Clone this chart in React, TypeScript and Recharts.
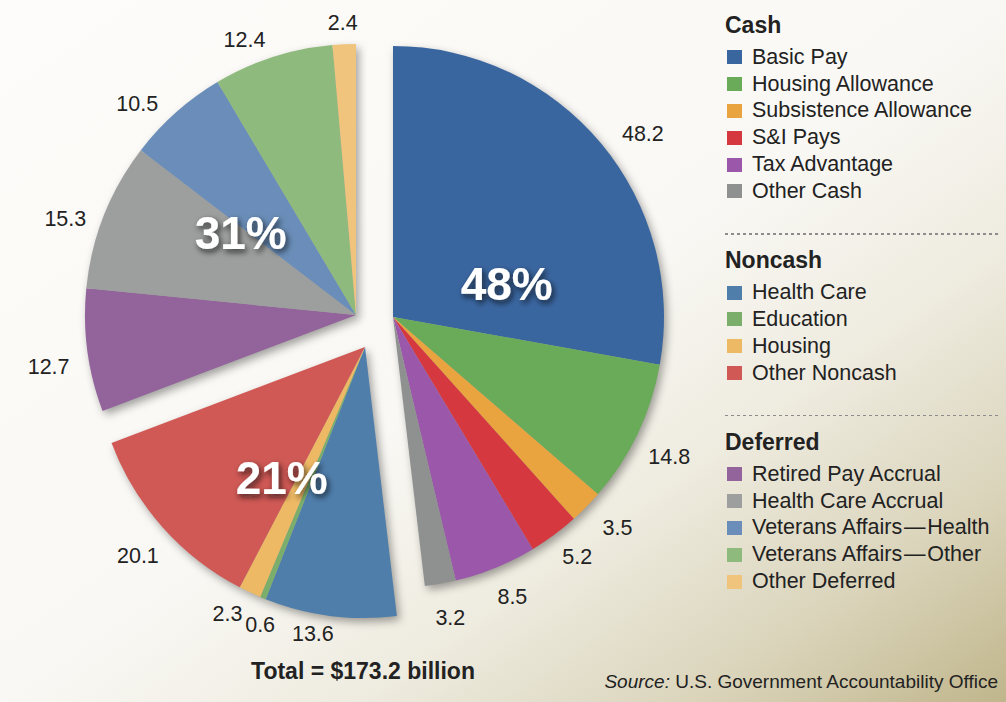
import React from 'react';
import { PieChart, Pie, Cell } from 'recharts';

// ---------- data ----------
const cashNames = ['Basic Pay', 'Housing Allowance', 'Subsistence Allowance', 'S&I Pays', 'Tax Advantage', 'Other Cash'];
const cashValues = [48.2, 14.8, 3.5, 5.2, 8.5, 3.2];
const cashColors = ['#3a66a0', '#6aab59', '#e9a43f', '#d5383e', '#9b58aa', '#8f9090'];

const noncashNames = ['Health Care', 'Education', 'Housing', 'Other Noncash'];
const noncashValues = [13.6, 0.6, 2.3, 20.1];
const noncashColors = ['#4f7eab', '#7aae6a', '#eeb965', '#d05955'];

const deferredNames = ['Retired Pay Accrual', 'Health Care Accrual', 'Veterans Affairs\u200A\u2014\u200AHealth', 'Veterans Affairs\u200A\u2014\u200AOther', 'Other Deferred'];
const deferredValues = [12.7, 15.3, 10.5, 12.4, 2.4];
const deferredColors = ['#93639b', '#9d9e9e', '#6a8eb9', '#8ebb7d', '#f0c47d'];

const groupTitles = ['Cash', 'Noncash', 'Deferred'];
const totalLabel = 'Total = $173.2 billion';
const sourceLabel = 'U.S. Government Accountability Office';

// ---------- build ----------
const groupNames = [cashNames, noncashNames, deferredNames];
const groupValues = [cashValues, noncashValues, deferredValues];
const groupColors = [cashColors, noncashColors, deferredColors];

type Row = { name: string; value: number; group: number; color: string };
const rows: Row[] = [];
groupNames.forEach((names, g) =>
  names.forEach((n, i) => rows.push({ name: n, value: groupValues[g][i], group: g, color: groupColors[g][i] }))
);
const total = rows.reduce((s, r) => s + r.value, 0);
const groupSums = groupValues.map((vs) => vs.reduce((s, v) => s + v, 0));
const groupFirstIndex = groupTitles.map((_, g) => rows.findIndex((r) => r.group === g));

// ---------- layout / style ----------
const FONT = '"Liberation Sans", Arial, Helvetica, sans-serif';
const R = 271;
const groupCenters = [
  { cx: 393, cy: 317 },
  { cx: 365, cy: 347 },
  { cx: 356, cy: 315 },
];
const LABEL_R = 305;
const labelNudge: Record<string, [number, number]> = {
  'Basic Pay': [16, 12],
  'Housing Allowance': [1, 8],
  'Subsistence Allowance': [7, -4],
  'S&I Pays': [3, -6],
  'Tax Advantage': [4, -3],
  'Other Cash': [4, 0],
  'Health Care': [-13, -16],
  'Education': [10, -5],
  'Housing': [-8, -10],
  'Other Noncash': [1, 6],
  'Retired Pay Accrual': [-5, 11],
  'Health Care Accrual': [-7, 15],
  'Veterans Affairs\u200A\u2014\u200AHealth': [-16, 16],
  'Veterans Affairs\u200A\u2014\u200AOther': [-18, 15],
  'Other Deferred': [0, 12],
};
const PCT_R = 145;
const pctNudge: [number, number][] = [
  [-31, -25],
  [-8, 6],
  [4, 0],
];
const RAD = Math.PI / 180;

const makeLabel = (g: number) => (props: any) => {
  const { cx, cy, midAngle, startAngle, index } = props;
  const row = rows[index];
  if (!row || row.group !== g) return <g />;
  const nx = labelNudge[row.name] ? labelNudge[row.name][0] : 0;
  const ny = labelNudge[row.name] ? labelNudge[row.name][1] : 0;
  const x = cx + LABEL_R * Math.cos(-midAngle * RAD) + nx;
  const y = cy + LABEL_R * Math.sin(-midAngle * RAD) + ny;
  let big: React.ReactNode = null;
  if (index === groupFirstIndex[g]) {
    const share = groupSums[g] / total;
    const gMid = startAngle - share * 180;
    const px = cx + PCT_R * Math.cos(-gMid * RAD) + pctNudge[g][0];
    const py = cy + PCT_R * Math.sin(-gMid * RAD) + pctNudge[g][1];
    big = (
      <text
        x={px}
        y={py}
        dy="0.36em"
        textAnchor="middle"
        fill="#ffffff"
        fontFamily={FONT}
        fontWeight={700}
        fontSize={46}
        filter="url(#pctShadow)"
      >
        {`${Math.round(share * 100)}%`}
      </text>
    );
  }
  return (
    <g>
      <text x={x} y={y} dy="0.36em" textAnchor="middle" fill="#222" fontFamily={FONT} fontSize={21.5}>
        {row.value.toFixed(1)}
      </text>
      {big}
    </g>
  );
};

export default function App() {
  return (
    <div
      style={{
        position: 'relative',
        width: 1006,
        height: 702,
        overflow: 'hidden',
        fontFamily: FONT,
        background:
          'linear-gradient(to bottom right, #fdfcfa 0%, #f9f8f4 50%, #eeebdf 68%, #dbd5bc 84%, #c0b68c 100%)',
      }}
    >
      <style>{`body{margin:0}`}</style>
      <svg width={0} height={0} style={{ position: 'absolute' }}>
        <defs>
          <filter id="blurShadow" x="-30%" y="-30%" width="160%" height="160%">
            <feGaussianBlur stdDeviation={4} />
          </filter>
          <filter id="pctShadow" x="-30%" y="-40%" width="160%" height="180%">
            <feDropShadow dx={2} dy={3} stdDeviation={3} floodColor="#111" floodOpacity={0.75} />
          </filter>
        </defs>
      </svg>
      <div style={{ position: 'absolute', left: 0, top: 0 }}>
        <PieChart width={1006} height={702} margin={{ top: 0, right: 0, bottom: 0, left: 0 }}>
          {groupTitles.map((t, g) => (
            <Pie
              key={'shadow-' + t}
              data={rows}
              dataKey="value"
              nameKey="name"
              cx={groupCenters[g].cx + 3}
              cy={groupCenters[g].cy + 4}
              outerRadius={R}
              startAngle={90}
              endAngle={-270}
              stroke="none"
              isAnimationActive={false}
              label={false}
              labelLine={false}
            >
              {rows.map((r, i) => (
                <Cell
                  key={i}
                  fill={r.group === g ? '#000' : 'transparent'}
                  fillOpacity={r.group === g ? 0.36 : 0}
                  filter={r.group === g ? 'url(#blurShadow)' : undefined}
                />
              ))}
            </Pie>
          ))}
          {groupTitles.map((t, g) => (
            <Pie
              key={'pie-' + t}
              data={rows}
              dataKey="value"
              nameKey="name"
              cx={groupCenters[g].cx}
              cy={groupCenters[g].cy}
              outerRadius={R}
              startAngle={90}
              endAngle={-270}
              stroke="none"
              isAnimationActive={false}
              label={makeLabel(g)}
              labelLine={false}
            >
              {rows.map((r, i) => (
                <Cell key={i} fill={r.group === g ? r.color : 'transparent'} />
              ))}
            </Pie>
          ))}
        </PieChart>
      </div>

      {/* legend */}
      <div style={{ position: 'absolute', left: 725, top: 10, width: 276, color: '#222' }}>
        {groupTitles.map((title, g) => (
          <div key={title}>
            {g > 0 && (
              <div
                style={{
                  height: 1.5,
                  marginTop: 28.5,
                  marginBottom: 10.5,
                  background: 'repeating-linear-gradient(to right, #8c8c8c 0 3px, transparent 3px 6px)',
                }}
              />
            )}
            <div style={{ height: 34, lineHeight: '30px', fontSize: 23, fontWeight: 700 }}>{title}</div>
            {groupNames[g].map((n, i) => (
              <div key={n} style={{ height: 26.8, display: 'flex', alignItems: 'center' }}>
                <span
                  style={{
                    display: 'inline-block',
                    width: 15,
                    height: 14,
                    marginLeft: 2,
                    marginRight: 10,
                    background: groupColors[g][i],
                  }}
                />
                <span style={{ fontSize: 21.5, whiteSpace: 'nowrap' }}>{n}</span>
              </div>
            ))}
          </div>
        ))}
      </div>

      <div
        style={{
          position: 'absolute',
          left: 0,
          width: 726,
          top: 658,
          lineHeight: '26px',
          textAlign: 'center',
          fontSize: 23,
          fontWeight: 700,
          color: '#222',
        }}
      >
        {totalLabel}
      </div>
      <div
        style={{
          position: 'absolute',
          right: 8,
          top: 671,
          lineHeight: '22px',
          fontSize: 19,
          color: '#222',
          whiteSpace: 'nowrap',
        }}
      >
        <i>Source:</i> {sourceLabel}
      </div>
    </div>
  );
}
